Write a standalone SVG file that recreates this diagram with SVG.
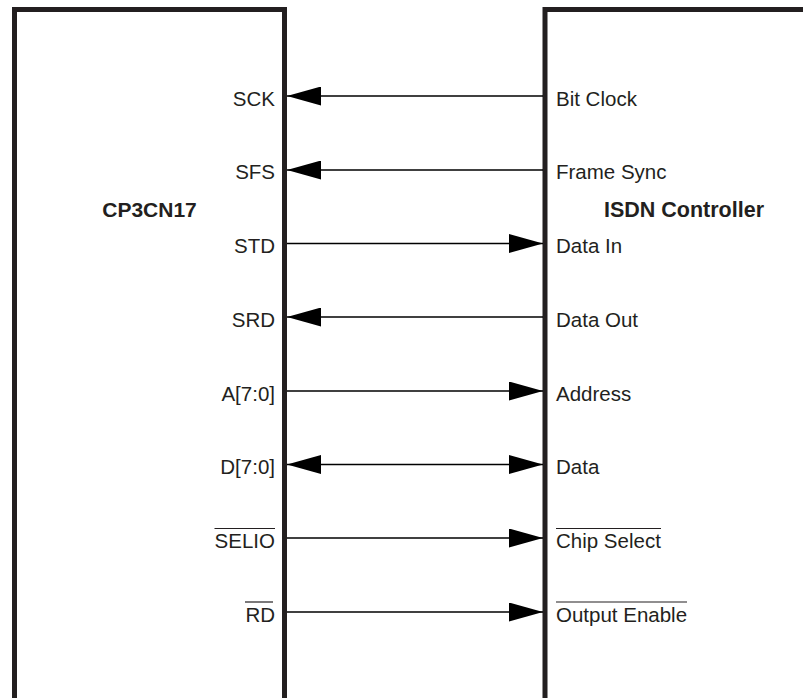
<svg xmlns="http://www.w3.org/2000/svg" width="803" height="698" viewBox="0 0 803 698">
  <defs>
    <marker id="ah" viewBox="0 0 34 19" refX="34" refY="9.5" markerWidth="34" markerHeight="19" markerUnits="userSpaceOnUse" orient="auto-start-reverse">
      <path d="M0,0 L34,9.5 L0,19 Z" fill="#000"/>
    </marker>
    <style>
      .box{fill:none;stroke:#231f20;stroke-width:5}
      .sig{stroke:#000;stroke-width:1.5;fill:none}
      .lbl{font-family:"Liberation Sans",Arial,sans-serif;font-size:20.5px;fill:#231f20}
      .l{text-anchor:end}
      .title{font-family:"Liberation Sans",Arial,sans-serif;font-size:21px;font-weight:bold;fill:#231f20;text-anchor:middle}
      .ov{stroke:#231f20;stroke-width:1.2}
    </style>
  </defs>
  <rect width="803" height="698" fill="#fff"/>

  <g id="cp3cn17">
    <path class="box" d="M14.5,700 V9.5 H284.5 V700"/>
    <text class="title" x="149.5" y="217">CP3CN17</text>
    <text class="lbl l" x="275" y="106">SCK</text>
    <text class="lbl l" x="275" y="179">SFS</text>
    <text class="lbl l" x="275" y="252.5">STD</text>
    <text class="lbl l" x="275" y="326.5">SRD</text>
    <text class="lbl l" x="275" y="400.5">A[7:0]</text>
    <text class="lbl l" x="275" y="474">D[7:0]</text>
    <text class="lbl l" x="275" y="548">SELIO</text>
    <line class="ov" x1="214.5" y1="528.5" x2="275" y2="528.5"/>
    <text class="lbl l" x="275" y="622">RD</text>
    <line class="ov" x1="245" y1="602" x2="273" y2="602"/>
  </g>

  <g id="isdn">
    <path class="box" d="M545,700 V9.5 H805"/>
    <text class="title" x="684" y="217" style="font-size:21.5px">ISDN Controller</text>
    <text class="lbl" x="556" y="106">Bit Clock</text>
    <text class="lbl" x="556" y="179">Frame Sync</text>
    <text class="lbl" x="556" y="252.5">Data In</text>
    <text class="lbl" x="556" y="326.5">Data Out</text>
    <text class="lbl" x="556" y="400.5">Address</text>
    <text class="lbl" x="556" y="474">Data</text>
    <text class="lbl" x="556" y="548">Chip Select</text>
    <line class="ov" x1="556" y1="528.5" x2="661" y2="528.5"/>
    <text class="lbl" x="556" y="622">Output Enable</text>
    <line class="ov" x1="556" y1="602" x2="687" y2="602"/>
  </g>

  <g id="connectors">
    <line class="sig" x1="543" y1="96" x2="287" y2="96" marker-end="url(#ah)"/>
    <line class="sig" x1="543" y1="170" x2="287" y2="170" marker-end="url(#ah)"/>
    <line class="sig" x1="287" y1="243.5" x2="543" y2="243.5" marker-end="url(#ah)"/>
    <line class="sig" x1="543" y1="317" x2="287" y2="317" marker-end="url(#ah)"/>
    <line class="sig" x1="287" y1="391" x2="543" y2="391" marker-end="url(#ah)"/>
    <line class="sig" x1="287" y1="464.5" x2="543" y2="464.5" marker-start="url(#ah)" marker-end="url(#ah)"/>
    <line class="sig" x1="287" y1="538" x2="543" y2="538" marker-end="url(#ah)"/>
    <line class="sig" x1="287" y1="612" x2="543" y2="612" marker-end="url(#ah)"/>
  </g>
</svg>
